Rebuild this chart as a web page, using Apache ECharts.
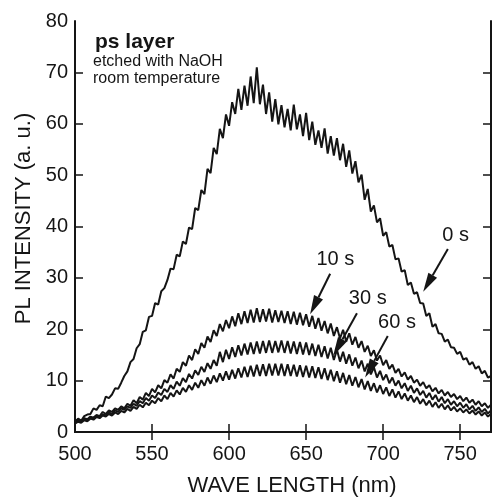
<!DOCTYPE html>
<html><head><meta charset="utf-8">
<script src="https://cdn.jsdelivr.net/npm/echarts@6/dist/echarts.min.js"></script>
<style>html,body{margin:0;padding:0;background:#fff}#c{width:493px;height:502px}</style>
</head><body><div id="c"></div>
<script>
const wavelengths = [500,502,504,506,508,510,512,514,516,518,520,522,524,526,528,530,532,534,536,538,540,542,544,546,548,550,552,554,556,558,560,562,564,566,568,570,572,574,576,578,580,582,584,586,588,590,592,594,596,598,600,602,604,606,608,610,612,614,616,618,620,622,624,626,628,630,632,634,636,638,640,642,644,646,648,650,652,654,656,658,660,662,664,666,668,670,672,674,676,678,680,682,684,686,688,690,692,694,696,698,700,702,704,706,708,710,712,714,716,718,720,722,724,726,728,730,732,734,736,738,740,742,744,746,748,750,752,754,756,758,760,762,764,766,768,770];
const s0 = [2.0,2.6,2.2,3.1,3.4,3.5,4.6,4.3,5.2,5.0,6.9,6.6,7.3,8.5,8.4,9.6,10.9,11.8,13.6,14.2,16.3,17.1,19.5,19.8,22.4,22.6,25.1,24.8,27.4,28.0,29.6,31.8,31.7,34.5,34.2,37.1,36.6,39.8,39.5,43.6,43.2,47.1,46.3,51.2,50.4,55.3,54.1,59.0,57.2,61.8,59.6,64.2,61.9,66.8,62.7,67.4,63.5,69.2,64.0,71.0,63.8,67.6,61.9,66.1,60.4,64.8,59.9,63.6,59.3,62.9,58.7,63.7,58.9,61.8,57.6,62.1,56.8,60.4,55.9,58.7,55.3,59.1,54.2,57.6,53.8,57.2,52.9,56.1,51.6,54.8,50.3,52.7,48.6,50.1,45.2,47.3,42.9,44.1,40.8,41.6,38.2,38.9,36.1,36.4,33.6,33.8,31.2,31.5,28.6,29.1,26.9,27.2,25.1,25.0,22.6,23.1,20.5,21.0,19.2,19.1,17.6,18.0,16.5,16.4,15.2,15.6,14.1,14.4,13.1,13.6,12.3,12.8,11.4,11.9,10.6,10.9];
const s10 = [2.0,2.4,2.1,2.7,2.5,3.0,2.8,3.3,3.1,3.9,3.5,4.2,3.9,4.6,4.3,5.0,4.6,5.5,5.1,6.2,5.6,6.8,6.3,7.6,7.0,8.4,7.7,9.1,8.5,10.1,9.6,11.2,10.4,12.3,11.7,13.6,12.9,14.9,14.0,16.1,15.2,17.3,16.4,18.6,17.5,19.8,18.7,21.0,19.6,21.8,20.2,22.5,20.6,23.1,21.0,23.5,21.2,23.8,21.3,24.1,21.4,23.9,21.5,24.0,21.3,23.7,21.4,23.6,21.2,23.5,21.0,23.4,20.9,23.2,20.8,22.9,20.5,22.6,20.1,22.2,19.7,21.6,19.2,21.1,18.7,20.4,18.2,19.9,17.6,19.2,17.0,18.5,16.4,17.7,15.6,16.8,14.8,15.9,13.9,14.9,13.0,14.0,12.3,13.1,11.5,12.3,10.8,11.6,10.2,10.9,9.6,10.2,9.0,9.7,8.5,9.1,7.9,8.6,7.5,8.2,7.1,7.8,6.8,7.4,6.4,7.0,6.0,6.7,5.7,6.3,5.3,6.0,5.0,5.6,4.7,5.3];
const s30 = [1.9,2.2,2.0,2.5,2.3,2.8,2.6,3.1,2.9,3.4,3.2,3.8,3.5,4.2,3.9,4.6,4.3,5.0,4.7,5.5,5.1,6.0,5.6,6.6,6.1,7.1,6.6,7.7,7.2,8.4,7.8,9.1,8.4,9.8,9.0,10.5,9.7,11.3,10.4,12.0,11.1,12.7,11.7,13.4,12.3,14.0,12.9,15.6,13.6,16.0,14.2,16.5,14.6,16.9,14.9,17.2,15.1,17.4,15.2,17.6,15.3,17.7,15.4,17.8,15.4,17.7,15.5,17.8,15.4,17.7,15.3,17.6,15.2,17.5,15.1,17.4,15.0,17.2,14.8,17.0,14.6,16.7,14.3,16.4,14.0,16.0,13.7,15.6,13.3,15.1,12.9,14.5,12.4,13.9,11.8,13.3,11.2,12.6,10.6,11.9,10.1,11.2,9.5,10.6,9.0,10.0,8.5,9.5,8.0,9.0,7.6,8.5,7.2,8.0,6.7,7.6,6.3,7.2,5.9,6.8,5.6,6.4,5.3,6.0,5.0,5.7,4.7,5.4,4.4,5.1,4.1,4.8,3.9,4.5,3.6,4.2];
const s60 = [1.6,2.0,1.8,2.3,2.1,2.6,2.4,2.9,2.7,3.2,3.0,3.5,3.2,3.8,3.5,4.1,3.8,4.5,4.1,4.9,4.5,5.3,4.8,5.7,5.2,6.1,5.6,6.6,6.0,7.1,6.4,7.6,6.9,8.1,7.3,8.6,7.8,9.1,8.2,9.6,8.6,10.1,9.0,10.6,9.4,11.0,9.7,11.4,10.0,11.8,10.2,12.1,10.4,12.4,10.6,12.7,10.7,12.9,10.8,13.1,10.9,13.2,10.9,13.3,11.0,13.3,11.0,13.3,10.9,13.2,10.9,13.1,10.8,13.0,10.7,12.9,10.6,12.8,10.5,12.6,10.3,12.4,10.1,12.1,9.9,11.8,9.6,11.5,9.3,11.1,9.0,10.7,8.7,10.3,8.3,9.9,8.0,9.5,7.7,9.1,7.4,8.7,7.0,8.3,6.7,7.9,6.4,7.5,6.1,7.1,5.8,6.8,5.5,6.4,5.2,6.1,4.9,5.8,4.7,5.5,4.4,5.2,4.2,4.9,4.0,4.6,3.8,4.4,3.6,4.2,3.4,4.0,3.2,3.8,3.0,3.5];
const seriesNames = ['0 s','10 s','30 s','60 s'];
const xTickLabels = [500,550,600,650,700,750];
const xInnerTicks = [550,600,650,700,750];
const yTickLabels = [0,10,20,30,40,50,60,70,80];
const yInnerTicks = [10,20,30,40,50,60,70];
// annotation arrows (in data coordinates)
const arrowLabels = ['0 s','10 s','30 s','60 s'];
const arrowLabelAt = [[747,38.3],[669,33.5],[690,26],[709,21.3]];
const arrowFrom = [[742,35.6],[665.6,30.8],[683,23.1],[703,18.7]];
const arrowTo = [[726,27.3],[652.6,22.9],[667.5,14.8],[688.3,10.6]];

const ink = '#151515';
const font = '"Liberation Sans", Arial, Helvetica, sans-serif';
const chart = echarts.init(document.getElementById('c'), null, {renderer:'canvas'});
const allData = [s0,s10,s30,s60];
const series = allData.map((arr,i)=>({
  name: seriesNames[i], type:'line', showSymbol:false, symbol:'none', animation:false,
  data: wavelengths.map((w,k)=>[w,arr[k]]),
  lineStyle:{color:ink,width:2}, xAxisIndex:0, yAxisIndex:0
}));
series[0].markPoint = {
  silent:true, animation:false, symbol:'circle', symbolSize:0,
  label:{show:true, color:ink, fontSize:20, fontFamily:font, position:'inside', formatter:p=>p.name},
  data: arrowLabels.map((t,i)=>({name:t, coord:arrowLabelAt[i]}))
};
series.push({
  type:'custom', silent:true, animation:false, xAxisIndex:0, yAxisIndex:0,
  data: arrowFrom.map((f,i)=>[f[0],f[1],arrowTo[i][0],arrowTo[i][1]]),
  encode:{x:[0,2], y:[1,3]},
  renderItem:function(params, api){
    const p0 = api.coord([api.value(0), api.value(1)]);
    const p1 = api.coord([api.value(2), api.value(3)]);
    const dx = p1[0]-p0[0], dy = p1[1]-p0[1];
    const len = Math.sqrt(dx*dx+dy*dy);
    const ux = dx/len, uy = dy/len;
    const headL = 19, headW = 5;
    const bx = p1[0]-ux*headL, by = p1[1]-uy*headL;
    return {type:'group', children:[
      {type:'line', shape:{x1:p0[0],y1:p0[1],x2:bx,y2:by}, style:{stroke:ink,lineWidth:2}},
      {type:'polygon', shape:{points:[[p1[0],p1[1]],[bx-uy*headW,by+ux*headW],[bx+uy*headW,by-ux*headW]]}, style:{fill:ink}}
    ]};
  }
});
const axisLine = {show:true, lineStyle:{color:ink,width:2}};
chart.setOption({
  backgroundColor:'#fff',
  animation:false,
  grid:{left:75,right:2,top:21,bottom:65,containLabel:false},
  xAxis:[
    {type:'value',min:500,max:770,interval:50,position:'bottom',
     name:'WAVE LENGTH (nm)',nameLocation:'middle',nameGap:43,
     nameTextStyle:{fontSize:22,color:ink,fontFamily:font,padding:[0,0,0,18]},
     axisLine:axisLine, splitLine:{show:false},
     axisTick:{show:true,inside:true,length:8,lineStyle:{color:ink,width:1.5},customValues:xInnerTicks},
     axisLabel:{show:true,fontSize:20,color:ink,fontFamily:font,margin:12,customValues:xTickLabels}},
    {type:'value',min:500,max:770,interval:50,position:'top',
     axisLine:axisLine, splitLine:{show:false},
     axisTick:{show:true,inside:true,length:8,lineStyle:{color:ink,width:1.5},customValues:xInnerTicks},
     axisLabel:{show:false}}
  ],
  yAxis:[
    {type:'value',min:0,max:80,interval:10,position:'left',
     name:'PL INTENSITY (a. u.)',nameLocation:'middle',nameGap:40,nameRotate:90,
     nameTextStyle:{fontSize:22,color:ink,fontFamily:font,padding:[0,0,0,16]},
     axisLine:axisLine, splitLine:{show:false},
     axisTick:{show:true,inside:true,length:8,lineStyle:{color:ink,width:1.5},customValues:yInnerTicks},
     axisLabel:{show:true,fontSize:20,color:ink,fontFamily:font,margin:7,customValues:yTickLabels}},
    {type:'value',min:0,max:80,interval:10,position:'right',
     axisLine:axisLine, splitLine:{show:false},
     axisTick:{show:true,inside:true,length:8,lineStyle:{color:ink,width:1.5},customValues:yInnerTicks},
     axisLabel:{show:false}}
  ],
  graphic:[
    {type:'text',left:95,top:32,style:{text:'ps layer',font:'bold 21px '+font,fill:ink}},
    {type:'text',left:93,top:54,style:{text:'etched with NaOH',font:'16px '+font,fill:ink}},
    {type:'text',left:93,top:71,style:{text:'room temperature',font:'16px '+font,fill:ink}}
  ],
  series: series
});
</script></body></html>
